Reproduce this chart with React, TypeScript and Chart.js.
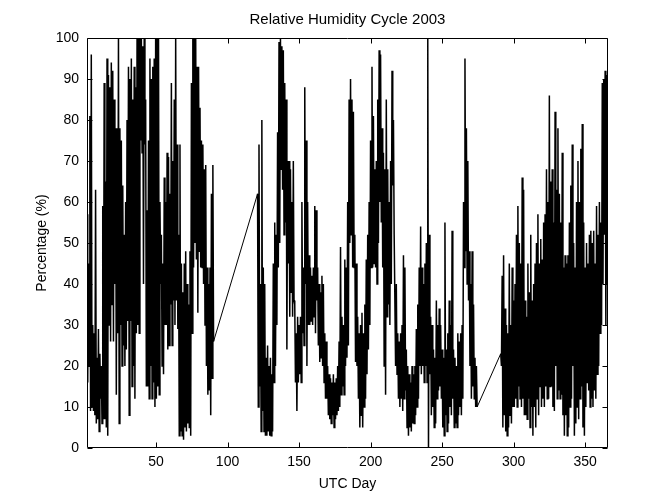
import { useEffect, useRef } from 'react';
import { Chart, registerables } from 'chart.js';

Chart.register(...registerables);

const chartTitle = 'Relative Humidity Cycle 2003';
const xAxisLabel = 'UTC Day';
const yAxisLabel = 'Percentage (%)';
const xTickValues = [50, 100, 150, 200, 250, 300, 350];
const yTickValues = [0, 10, 20, 30, 40, 50, 60, 70, 80, 90, 100];
const dayMin = 1.75;
const dayMax = 366;

// Segment A: winter / spring record (daily high and low readings)
const segAStart = 1.75;
const segAHigh = [
  57, 45, 81, 96, 30, 28, 63, 22, 29, 23, 20, 59, 89, 65, 95, 91, 88, 94, 92, 85,
  78, 78, 100, 78, 75, 64, 52, 60, 80, 93, 90, 95, 85, 93, 88, 100, 100, 100, 100, 98,
  100, 85, 58, 75, 95, 90, 93, 95, 100, 100, 100, 60, 52, 45, 66, 60, 72, 71, 62, 89,
  70, 85, 100, 74, 52, 74, 45, 38, 45, 48, 40, 35, 48, 89, 100, 100, 100, 93, 93, 83,
  75, 74, 68, 69, 44, 40, 44, 62, 69,
];
const segALow = [
  16, 20, 9, 10, 9, 8, 6, 7, 4, 12, 6, 7, 7, 5, 3, 30, 26, 35, 26, 40,
  13, 28, 6, 30, 20, 25, 20, 24, 31, 8, 31, 15, 20, 12, 28, 30, 28, 75, 72, 40,
  74, 15, 15, 12, 20, 12, 16, 10, 12, 15, 13, 40, 20, 18, 30, 30, 24, 25, 35, 25,
  36, 30, 36, 29, 3, 4, 3, 2, 5, 4, 6, 5, 3, 28, 44, 50, 46, 33, 48, 44,
  44, 40, 30, 20, 13, 14, 8, 17, 26,
];

// Segment B: late spring to autumn record
const segBStart = 121;
const segBHigh = [
  62, 74, 40, 80, 44, 40, 22, 25, 20, 22, 18, 45, 55, 52, 77, 99, 100, 98, 97, 89,
  85, 70, 70, 68, 60, 70, 35, 28, 32, 30, 32, 60, 44, 88, 75, 60, 47, 44, 42, 44,
  59, 58, 44, 40, 38, 42, 40, 28, 26, 20, 18, 17, 16, 18, 16, 17, 20, 26, 49, 32,
  30, 46, 44, 60, 85, 90, 85, 82, 52, 45, 32, 28, 30, 33, 28, 35, 46, 52, 60, 75,
  93, 81, 68, 70, 85, 97, 96, 78, 72, 68, 85, 68, 60, 70, 92, 80, 52, 40, 28, 26,
  28, 30, 47, 44, 24, 20, 18, 16, 20, 18, 20, 29, 35, 44, 54, 44, 40, 45, 50, 100,
  52, 32, 30, 24, 22, 36, 30, 34, 30, 24, 22, 55, 24, 28, 36, 30, 53, 24, 22, 20,
  28, 26, 28, 30, 60, 95, 78, 70, 48, 40, 48, 35, 22, 20,
];
const segBLow = [
  10, 15, 4, 9, 4, 3, 3, 4, 3, 3, 4, 16, 20, 30, 44, 50, 68, 63, 52, 55,
  24, 45, 32, 38, 32, 36, 16, 9, 16, 18, 16, 28, 25, 40, 20, 30, 30, 31, 30, 32,
  28, 36, 25, 21, 22, 20, 16, 12, 12, 8, 7, 6, 8, 5, 7, 8, 9, 10, 13, 15,
  13, 20, 22, 25, 50, 52, 44, 44, 21, 20, 12, 5, 8, 5, 10, 12, 18, 24, 30, 44,
  44, 45, 44, 40, 50, 60, 55, 44, 20, 13, 32, 35, 30, 40, 64, 52, 20, 18, 12, 10,
  12, 9, 12, 14, 5, 3, 5, 4, 6, 6, 8, 10, 12, 20, 18, 20, 16, 20, 16, 0,
  18, 8, 10, 5, 6, 12, 14, 15, 12, 5, 3, 8, 4, 6, 10, 8, 12, 5, 6, 5,
  8, 10, 8, 12, 44, 48, 40, 36, 20, 12, 15, 12, 10, 10,
];

// Segment C: late autumn / winter record
const segCStart = 291;
const segCHigh = [
  23, 42, 47, 34, 30, 28, 45, 30, 44, 36, 40, 52, 59, 50, 45, 66, 63, 36, 32, 45,
  38, 52, 36, 40, 45, 50, 57, 45, 51, 46, 55, 57, 68, 60, 86, 65, 68, 55, 82, 63,
  78, 62, 55, 72, 44, 47, 45, 47, 55, 64, 74, 50, 44, 60, 70, 60, 73, 79, 55, 44,
  50, 45, 52, 53, 50, 53, 45, 59, 52, 60, 55, 89, 90, 92, 91,
];
const segCLow = [
  20, 5, 8, 4, 3, 5, 8, 6, 10, 10, 12, 10, 15, 12, 10, 12, 8, 8, 7, 12,
  5, 10, 3, 10, 5, 12, 8, 15, 10, 12, 10, 15, 12, 12, 15, 15, 10, 9, 20, 12,
  14, 12, 13, 8, 3, 8, 3, 5, 10, 12, 20, 3, 6, 10, 7, 12, 15, 5, 3, 10,
  16, 14, 10, 12, 10, 14, 12, 18, 20, 28, 30, 40, 52, 30, 40,
];

function buildSegment(start: number, highs: number[], lows: number[]) {
  const pts: { x: number; y: number }[] = [];
  highs.forEach((h, i) => {
    pts.push({ x: start + i, y: h });
    pts.push({ x: start + i + 0.5, y: lows[i] });
  });
  return pts;
}

const series = [
  ...buildSegment(segAStart, segAHigh, segALow),
  ...buildSegment(segBStart, segBHigh, segBLow),
  ...buildSegment(segCStart, segCHigh, segCLow),
];

const FONT = '"Liberation Sans", Arial, Helvetica, sans-serif';

const framePlugin = {
  id: 'matlabFrame',
  afterDatasetsDraw(chart: any) {
    const { ctx, chartArea } = chart;
    const xs = chart.scales.x;
    const ys = chart.scales.y;
    const L = Math.round(chartArea.left) + 0.5;
    const R = Math.round(chartArea.right) - 0.5;
    const T = Math.round(chartArea.top) + 0.5;
    const B = Math.round(chartArea.bottom) - 0.5;
    ctx.save();
    ctx.strokeStyle = '#000';
    ctx.lineWidth = 1;
    ctx.beginPath();
    ctx.rect(L, T, R - L, B - T);
    xTickValues.forEach((v) => {
      const px = Math.round(xs.getPixelForValue(v)) + 0.5;
      ctx.moveTo(px, B);
      ctx.lineTo(px, B - 5);
      ctx.moveTo(px, T);
      ctx.lineTo(px, T + 5);
    });
    yTickValues.forEach((v) => {
      const py = Math.round(ys.getPixelForValue(v)) + 0.5;
      ctx.moveTo(L, py);
      ctx.lineTo(L + 5, py);
      ctx.moveTo(R, py);
      ctx.lineTo(R - 5, py);
    });
    ctx.stroke();
    ctx.restore();
  },
};

export default function App() {
  const canvasRef = useRef<HTMLCanvasElement | null>(null);

  useEffect(() => {
    const canvas = canvasRef.current;
    if (!canvas) return;
    const chart = new Chart(canvas, {
      type: 'line',
      data: {
        datasets: [
          {
            data: series,
            borderColor: '#000',
            borderWidth: 1.5,
            pointRadius: 0,
            tension: 0,
            fill: false,
            segment: {
              borderWidth: (c: any) => (c.p1.parsed.x - c.p0.parsed.x > 3 ? 1 : 1.5),
            },
          },
        ],
      },
      options: {
        animation: false,
        responsive: false,
        devicePixelRatio: 1,
        events: [],
        layout: { padding: { left: 0, right: 64, top: 0, bottom: 0 } },
        plugins: {
          legend: { display: false },
          tooltip: { enabled: false },
          title: {
            display: true,
            fullSize: false,
            text: chartTitle,
            color: '#000',
            font: { family: FONT, size: 15, weight: 'normal', lineHeight: 1.2 },
            padding: { top: 11, bottom: 9 },
          },
        },
        scales: {
          x: {
            type: 'linear',
            min: dayMin,
            max: dayMax,
            afterBuildTicks: (scale: any) => {
              scale.ticks = xTickValues.map((v) => ({ value: v }));
            },
            afterFit: (scale: any) => {
              scale.height = 56;
            },
            grid: { display: false, drawTicks: false },
            border: { display: false },
            ticks: {
              color: '#000',
              font: { family: FONT, size: 14 },
              padding: 6,
              maxRotation: 0,
              autoSkip: false,
              callback: (v: any) => String(v),
            },
            title: {
              display: true,
              text: xAxisLabel,
              color: '#000',
              font: { family: FONT, size: 14 },
              padding: { top: 0, bottom: 11.6 },
            },
          },
          y: {
            type: 'linear',
            min: 0,
            max: 100,
            afterBuildTicks: (scale: any) => {
              scale.ticks = yTickValues.map((v) => ({ value: v }));
            },
            afterFit: (scale: any) => {
              scale.width = 87;
            },
            grid: { display: false, drawTicks: false },
            border: { display: false },
            ticks: {
              color: '#000',
              font: { family: FONT, size: 14 },
              padding: 8,
              autoSkip: false,
              callback: (v: any) => String(v),
            },
            title: {
              display: true,
              text: yAxisLabel,
              color: '#000',
              font: { family: FONT, size: 14 },
              padding: { top: 33.6, bottom: 0 },
            },
          },
        },
      },
      plugins: [framePlugin],
    } as any);
    return () => chart.destroy();
  }, []);

  return (
    <div style={{ position: 'fixed', left: 0, top: 0, width: 672, height: 504, background: '#fff' }}>
      <canvas ref={canvasRef} width={672} height={504} style={{ width: 672, height: 504, display: 'block' }} />
    </div>
  );
}
